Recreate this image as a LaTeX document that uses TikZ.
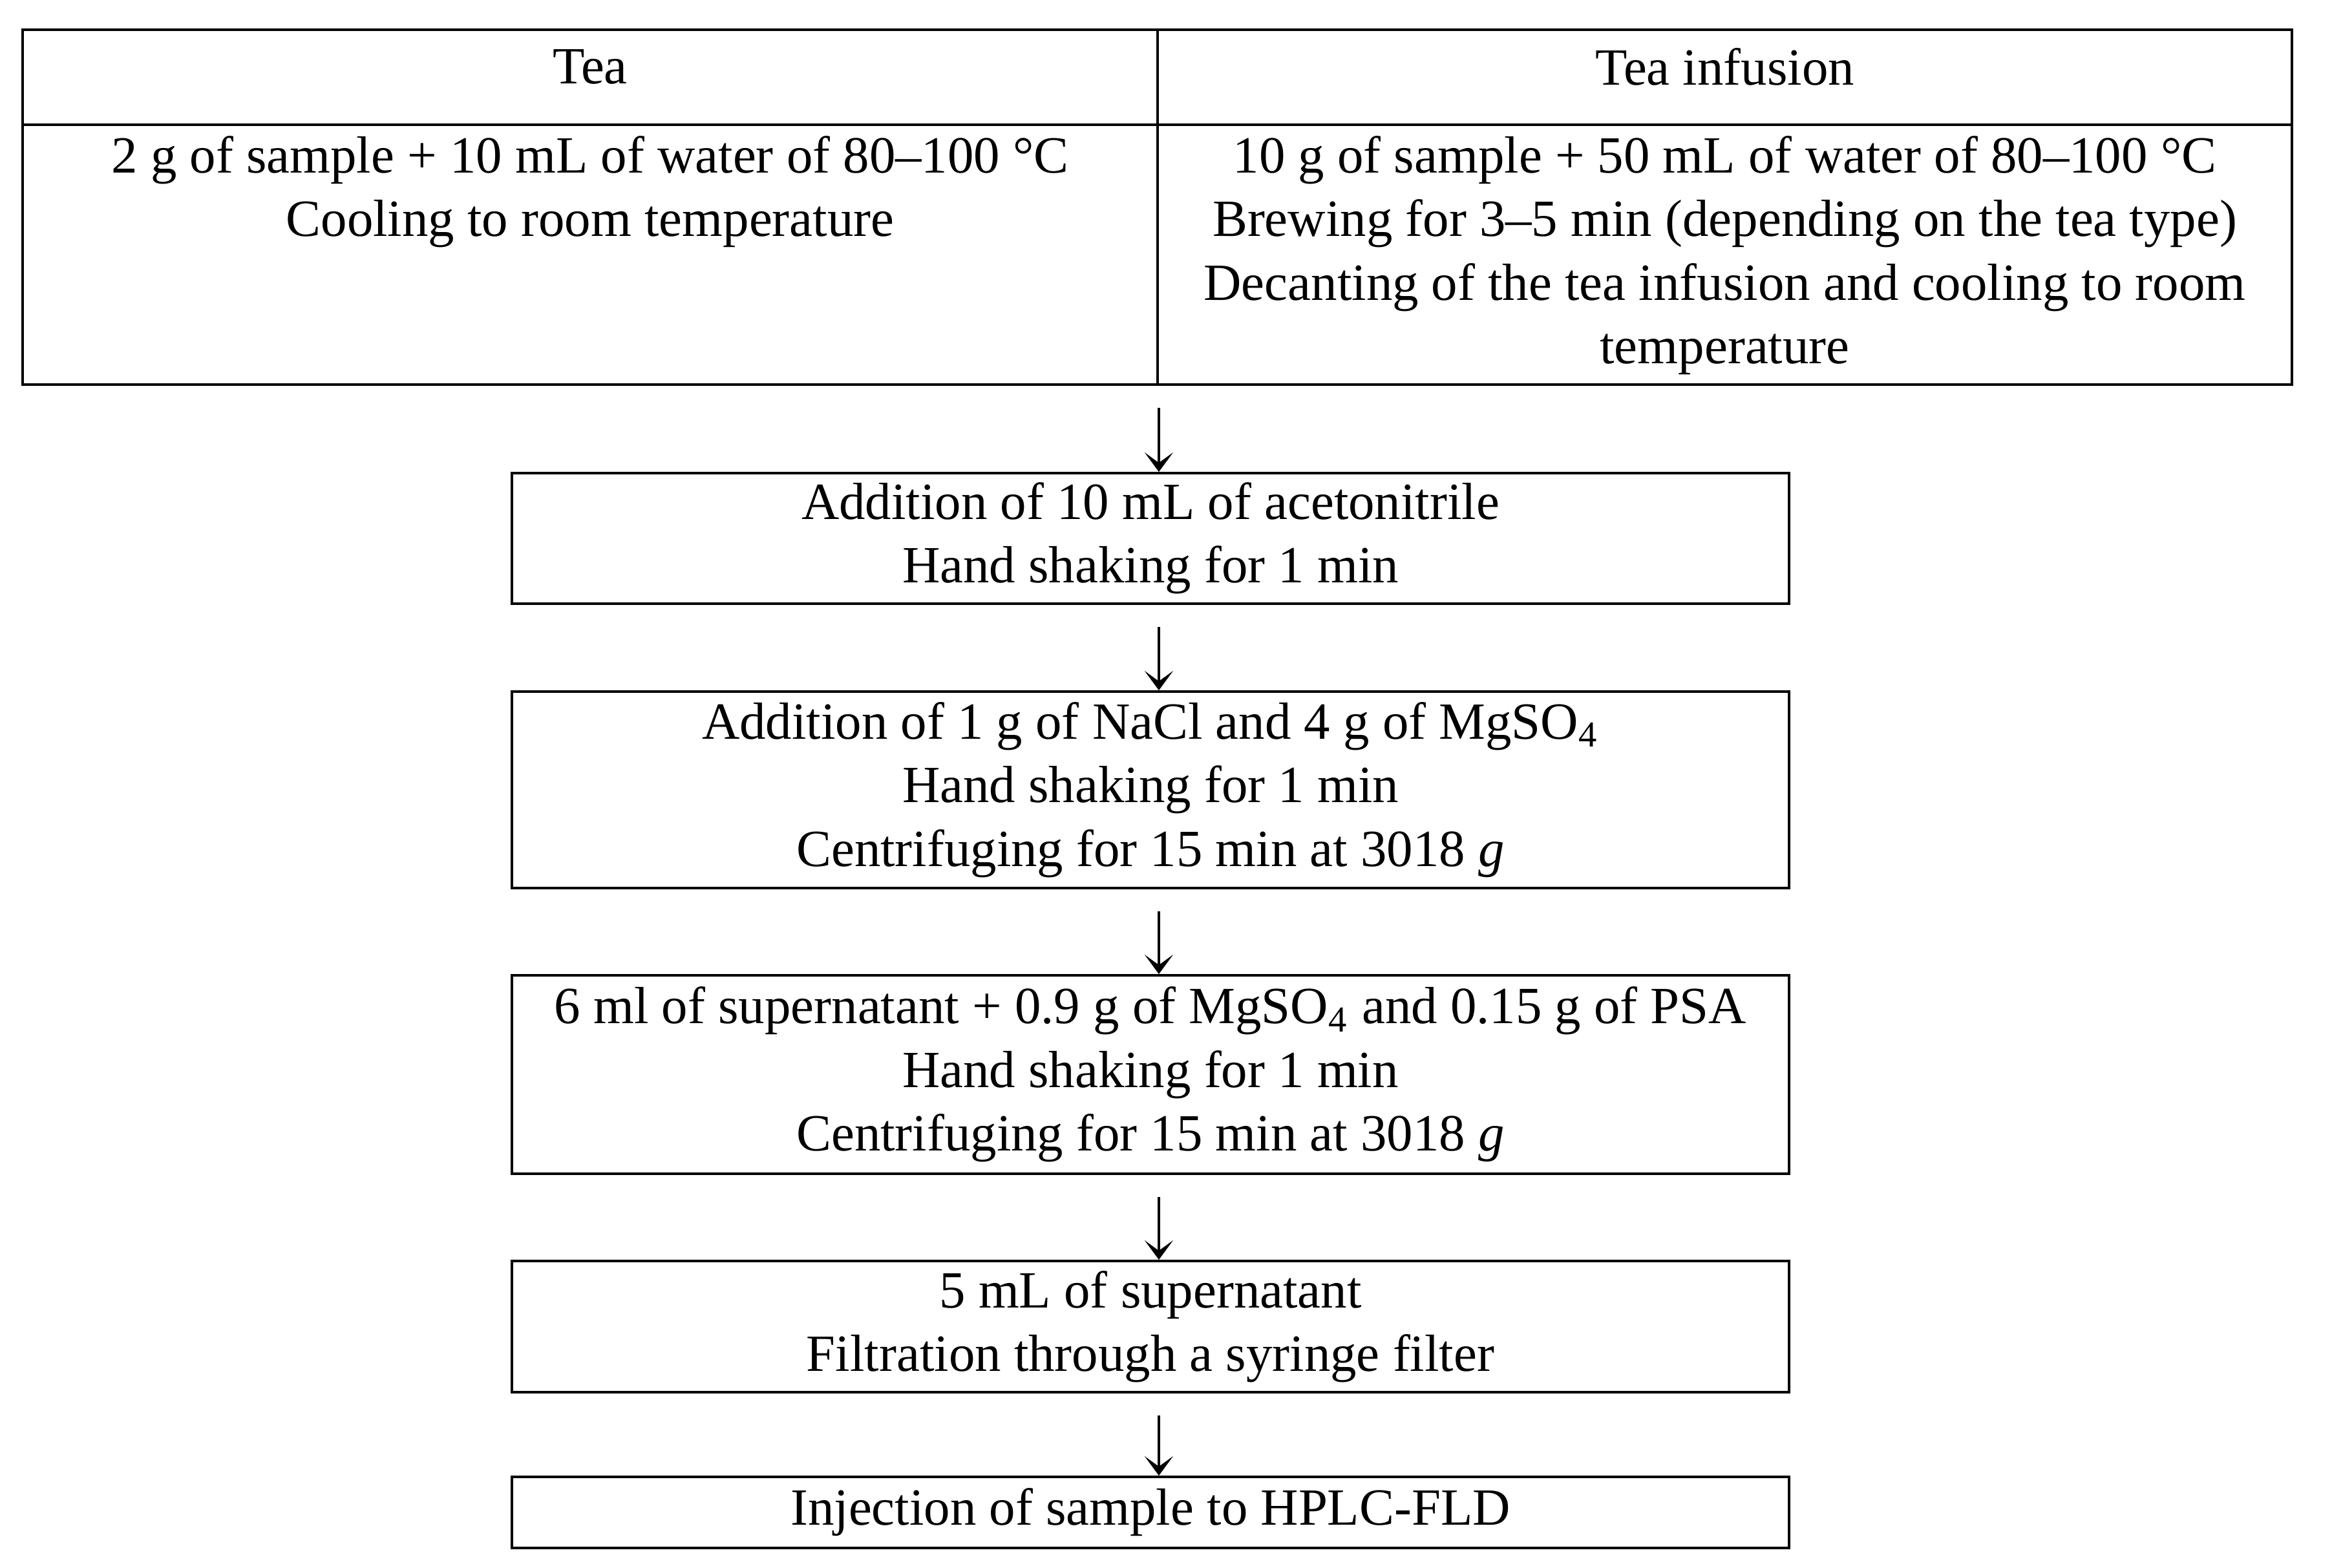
\documentclass[tikz,border=0pt]{standalone}
\usepackage{fontspec}
\setmainfont{Liberation Serif}
\usetikzlibrary{arrows.meta,positioning}

\tikzset{
  cell/.style={draw, line width=0.55pt, inner sep=0pt},
  stepbox/.style={draw, line width=0.55pt, minimum width=9.88cm, align=center, inner sep=0pt},
  txt/.style={align=center, inner sep=0pt},
  flow/.style={-{Stealth[length=1.5mm,width=2.2mm,inset=0.8mm]}, line width=0.6pt},
}

\begin{document}
\begin{tikzpicture}[font=\fontsize{11.5}{14}\selectfont]
\useasboundingbox (0,0) rectangle (18.04,-12.13);
% table with the two sample types
\node[cell, minimum width=8.78cm, minimum height=0.735cm] (teahead) at (4.565,-0.5975) {};
\node[cell, minimum width=8.775cm, minimum height=0.735cm] (infhead) at (13.3425,-0.5975) {};
\node[cell, minimum width=8.78cm, minimum height=2.01cm] (teabody) at (4.565,-1.97) {};
\node[cell, minimum width=8.775cm, minimum height=2.01cm] (infbody) at (13.3425,-1.97) {};
\node[txt] (teatitle) at ([yshift=0.08cm]teahead.center) {Tea};
\node[txt] (inftitle) at ([yshift=0.08cm]infhead.center) {Tea infusion};
\node[txt, anchor=north] (teatext) at ([yshift=-0.09cm]teabody.north)
  {2 g of sample + 10 mL of water of 80–100 °C\\
   Cooling to room temperature};
\node[txt, anchor=north] (inftext) at ([yshift=-0.09cm]infbody.north)
  {10 g of sample + 50 mL of water of 80–100 °C\\
   Brewing for 3–5 min (depending on the tea type)\\
   Decanting of the tea infusion and cooling to room\\
   temperature};

% extraction steps
\node[stepbox, minimum height=1.01cm] (acn) at (8.9,-4.165)
  {Addition of 10 mL of acetonitrile\\ Hand shaking for 1 min};
\node[stepbox, minimum height=1.52cm] (salt) at (8.9,-6.11)
  {Addition of 1 g of NaCl and 4 g of MgSO\textsubscript{4}\\
   Hand shaking for 1 min\\
   Centrifuging for 15 min at 3018 \textit{g}};
\node[stepbox, minimum height=1.535cm] (dspe) at (8.9,-8.3125)
  {6 ml of supernatant + 0.9 g of MgSO\textsubscript{4} and 0.15 g of PSA\\
   Hand shaking for 1 min\\
   Centrifuging for 15 min at 3018 \textit{g}};
\node[stepbox, minimum height=1.015cm] (filt) at (8.9,-10.2625)
  {5 mL of supernatant\\ Filtration through a syringe filter};
\node[stepbox, minimum height=0.55cm] (hplc) at (8.9,-11.70)
  {Injection of sample to HPLC-FLD};

% arrows
\draw[flow] ([yshift=-0.17cm]teabody.south east) -- (acn.north -| teabody.east);
\foreach \a/\b in {acn/salt, salt/dspe, dspe/filt, filt/hplc}
  \draw[flow] ([yshift=-0.17cm]\a.south -| teabody.east) -- (\b.north -| teabody.east);
\end{tikzpicture}
\end{document}
